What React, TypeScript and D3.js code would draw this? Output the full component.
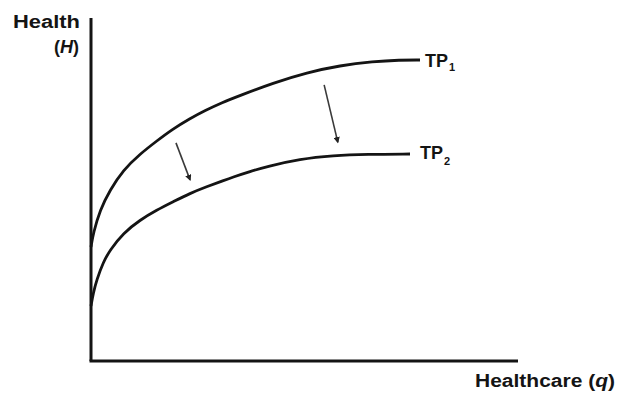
import React from "react";
import * as d3 from "d3";

const W = 620;
const H = 394;

// Healthcare quantity (q) and health (H) values, in data units 0..100
const tp1Q = [0, 0.54, 2.11, 4.45, 7.56, 11.48, 15.39, 18.97, 23.19, 26.7, 30.68, 34.89, 42.62, 50.59, 58.31, 66.04, 72.37, 77.05];
const tp1H = [33.24, 37.32, 44.02, 49.85, 55.69, 60.35, 64.14, 67.49, 70.7, 73.03, 75.36, 77.41, 81.05, 84.11, 86.15, 87.32, 87.76, 87.76];
const tp2Q = [0, 0.54, 1.33, 2.88, 4.45, 7.56, 11.48, 15.39, 19.27, 23.19, 27.1, 30.91, 33.26, 37.24, 41.22, 48.95, 56.67, 64.64, 74.71];
const tp2H = [16.03, 19.83, 23.62, 28.86, 32.36, 37.32, 41.11, 44.02, 46.44, 48.89, 50.82, 52.57, 53.64, 55.25, 56.71, 58.89, 59.91, 60.29, 60.35];

const arrowStarts = [[19.9, 63.6], [54.6, 80.5]];
const arrowEnds = [[23.2, 52.8], [57.8, 63.8]];

const curveLabels = ["TP", "TP"];
const curveSubs = ["1", "2"];

export default function App() {
  const x = d3.scaleLinear().domain([0, 100]).range([91, 518]);
  const y = d3.scaleLinear().domain([0, 100]).range([361, 18]);

  const line = d3
    .line<[number, number]>()
    .x((d) => x(d[0]))
    .y((d) => y(d[1]))
    .curve(d3.curveBasis);

  const tp1 = tp1Q.map((q, i) => [q, tp1H[i]] as [number, number]);
  const tp2 = tp2Q.map((q, i) => [q, tp2H[i]] as [number, number]);

  const font = "'Liberation Sans', Arial, sans-serif";
  const ink = "#141414";

  return (
    <svg
      width={W}
      height={H}
      style={{ position: "absolute", left: 0, top: 0, background: "#fff" }}
      fontFamily={font}
    >
      <defs>
        <marker
          id="ah"
          viewBox="0 0 10 10"
          refX="8"
          refY="5"
          markerWidth="4"
          markerHeight="4"
          orient="auto"
          markerUnits="strokeWidth"
        >
          <path d="M0,0 L10,5 L0,10 z" fill="#222" />
        </marker>
      </defs>

      {/* axes */}
      <line x1={x(0)} y1={y(100)} x2={x(0)} y2={y(0)} stroke={ink} strokeWidth={3} />
      <line x1={x(0) - 1.5} y1={y(0)} x2={x(100)} y2={y(0)} stroke={ink} strokeWidth={3} />

      {/* curves */}
      <path d={line(tp1) || ""} fill="none" stroke={ink} strokeWidth={2.8} />
      <path d={line(tp2) || ""} fill="none" stroke={ink} strokeWidth={2.8} />

      {/* arrows */}
      {arrowStarts.map((s, i) => (
        <line
          key={i}
          x1={x(s[0])}
          y1={y(s[1])}
          x2={x(arrowEnds[i][0])}
          y2={y(arrowEnds[i][1])}
          stroke="#3a3a3a"
          strokeWidth={1.6}
          markerEnd="url(#ah)"
        />
      ))}

      {/* curve labels */}
      <text x={425} y={67} fontSize={18} fontWeight="bold" fill={ink}>
        <tspan textLength={23} lengthAdjust="spacingAndGlyphs">{curveLabels[0]}</tspan>
        <tspan fontSize={11} dy={4} dx={1}>{curveSubs[0]}</tspan>
      </text>
      <text x={420} y={159} fontSize={18} fontWeight="bold" fill={ink}>
        <tspan textLength={23} lengthAdjust="spacingAndGlyphs">{curveLabels[1]}</tspan>
        <tspan fontSize={11} dy={6} dx={1}>{curveSubs[1]}</tspan>
      </text>

      {/* axis titles */}
      <text x={13} y={28} fontSize={18} fontWeight="bold" fill={ink} textLength={67} lengthAdjust="spacingAndGlyphs">
        Health
      </text>
      <text x={79} y={53} fontSize={18} fontWeight="bold" fill={ink} textAnchor="end">
        (<tspan fontStyle="italic">H</tspan>)
      </text>
      <text x={475} y={387} fontSize={18} fontWeight="bold" fill={ink} textLength={140} lengthAdjust="spacingAndGlyphs">
        Healthcare (<tspan fontStyle="italic">q</tspan>)
      </text>
    </svg>
  );
}
